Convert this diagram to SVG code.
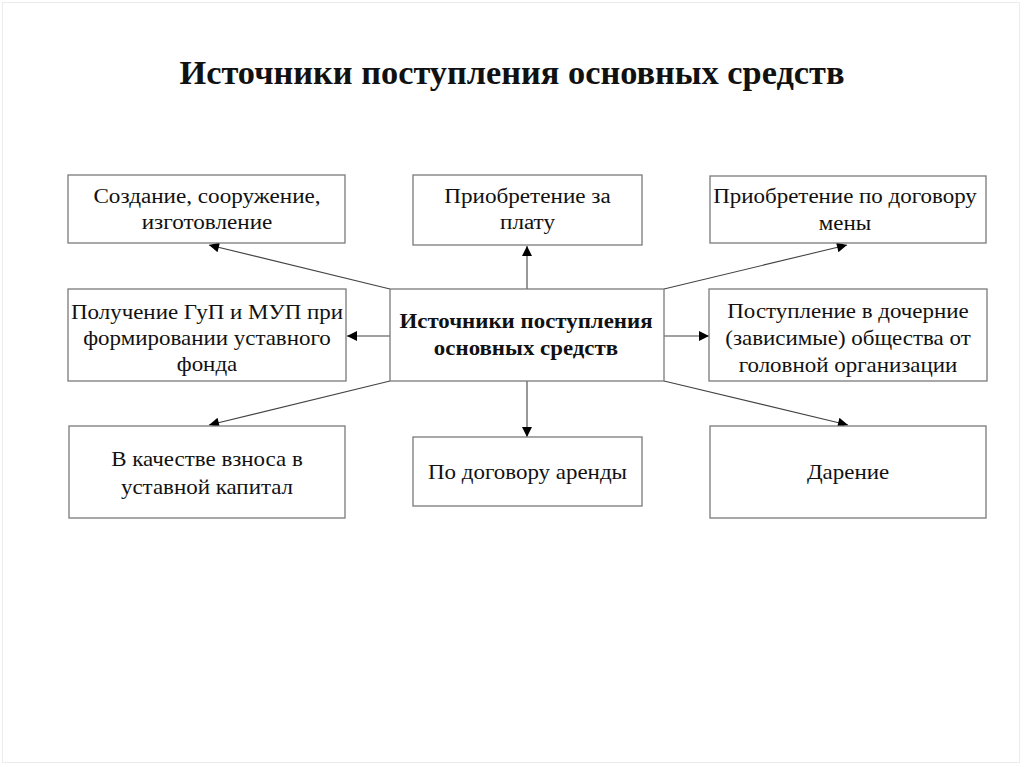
<svg xmlns="http://www.w3.org/2000/svg" width="1024" height="767" viewBox="0 0 1024 767">
<style>
.box{fill:#fff;stroke:#7a7a7a;stroke-width:1.3}
.t{font-family:"Liberation Serif","Times New Roman",serif;font-size:20.5px;fill:#111;text-anchor:middle}
.b{font-weight:bold;font-size:21px}
.c{stroke:#444;stroke-width:1.1;fill:none;marker-end:url(#ah)}
</style>
<defs>
<marker id="ah" viewBox="0 0 10 10" refX="10" refY="5" markerWidth="11" markerHeight="10" markerUnits="userSpaceOnUse" orient="auto">
<path d="M0,0 L10,5 L0,10 z" fill="#000"/>
</marker>
</defs>
<rect x="0" y="0" width="1024" height="767" fill="#fff"/>
<rect x="2.5" y="2.5" width="1017" height="760" fill="none" stroke="#ececec" stroke-width="1"/>
<text x="512" y="84" class="t" style="font-size:33px;font-weight:bold" textLength="665" lengthAdjust="spacingAndGlyphs">Источники поступления основных средств</text>
<g id="connectors">
<line class="c" x1="390" y1="289" x2="209" y2="245"/>
<line class="c" x1="390" y1="336" x2="347" y2="336"/>
<line class="c" x1="390" y1="381" x2="209" y2="425"/>
<line class="c" x1="527" y1="289" x2="527" y2="246"/>
<line class="c" x1="527" y1="381" x2="527" y2="437"/>
<line class="c" x1="664" y1="289" x2="847" y2="245"/>
<line class="c" x1="664" y1="336" x2="709" y2="336"/>
<line class="c" x1="664" y1="381" x2="848" y2="425"/>
</g>
<g id="center">
<rect class="box" x="390" y="289" width="274" height="92"/>
<text class="t b" transform="translate(526 328) scale(1.09 1)">Источники поступления</text>
<text class="t b" transform="translate(526 355) scale(1.09 1)">основных средств</text>
</g>
<g id="n-tl">
<rect class="box" x="68" y="175" width="277" height="68"/>
<text class="t" transform="translate(207 203) scale(1.13 1)">Создание, сооружение,</text>
<text class="t" transform="translate(207 229) scale(1.13 1)">изготовление</text>
</g>
<g id="n-tc">
<rect class="box" x="413" y="175" width="229" height="70"/>
<text class="t" transform="translate(527.5 203) scale(1.13 1)">Приобретение за</text>
<text class="t" transform="translate(527.5 229) scale(1.13 1)">плату</text>
</g>
<g id="n-tr">
<rect class="box" x="710" y="176" width="276" height="67"/>
<text class="t" transform="translate(845 203) scale(1.12 1)">Приобретение по договору</text>
<text class="t" transform="translate(845 230) scale(1.12 1)">мены</text>
</g>
<g id="n-ml">
<rect class="box" x="68" y="289" width="278" height="92"/>
<text class="t" transform="translate(207 319) scale(1.12 1)">Получение ГуП и МУП при</text>
<text class="t" transform="translate(207 345) scale(1.12 1)">формировании уставного</text>
<text class="t" transform="translate(207 371) scale(1.12 1)">фонда</text>
</g>
<g id="n-mr">
<rect class="box" x="709" y="289" width="278" height="92"/>
<text class="t" transform="translate(848 318) scale(1.12 1)">Поступление в дочерние</text>
<text class="t" transform="translate(848 345) scale(1.12 1)">(зависимые) общества от</text>
<text class="t" transform="translate(848 372) scale(1.12 1)">головной организации</text>
</g>
<g id="n-bl">
<rect class="box" x="69" y="426" width="276" height="92"/>
<text class="t" transform="translate(207 466) scale(1.12 1)">В качестве взноса в</text>
<text class="t" transform="translate(207 494) scale(1.12 1)">уставной капитал</text>
</g>
<g id="n-bc">
<rect class="box" x="413" y="437" width="229" height="69"/>
<text class="t" transform="translate(527.5 479) scale(1.12 1)">По договору аренды</text>
</g>
<g id="n-br">
<rect class="box" x="710" y="426" width="276" height="92"/>
<text class="t" transform="translate(848 479) scale(1.12 1)">Дарение</text>
</g>
</svg>
